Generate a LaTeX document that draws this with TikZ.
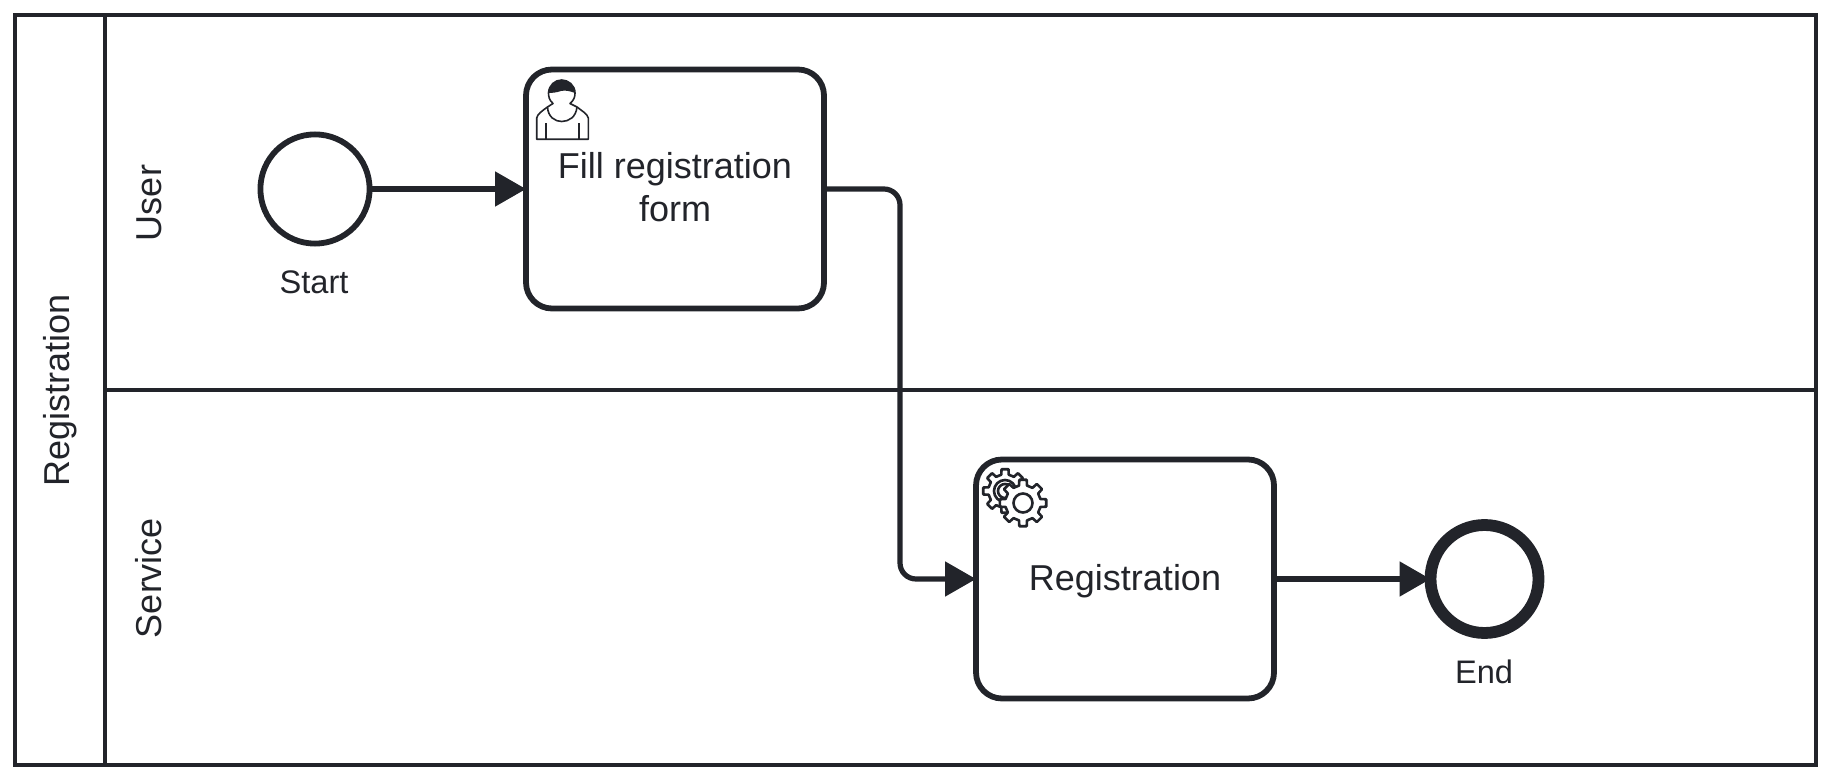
\documentclass[tikz,border=0pt]{standalone}
\usepackage{fontspec}
\setmainfont{Liberation Sans}
\usetikzlibrary{arrows.meta,calc}
\definecolor{inkdark}{HTML}{22242A}
\tikzset{
    lane/.style={line width=2.2pt,draw=inkdark},
    lanelabel/.style={rotate=90,text=inkdark,font=\fontsize{18}{21}\selectfont},
    task/.style={draw=inkdark,line width=2.9pt,rounded corners=13pt,fill=white,minimum width=149pt,minimum height=119.5pt,
        outer sep=0pt,text=inkdark,align=center,font=\fontsize{18}{21}\selectfont},
    startevent/.style={circle,draw=inkdark,line width=2.9pt,minimum size=54.6pt,inner sep=0pt,outer sep=0pt},
    endevent/.style={circle,draw=inkdark,line width=5.9pt,minimum size=54pt,inner sep=0pt,outer sep=0pt},
    eventlabel/.style={text=inkdark,font=\fontsize{16.3}{19}\selectfont},
    flow/.style={draw=inkdark,line width=2.6pt,rounded corners=8pt,-{Triangle[length=15.5pt,width=17pt]}},
    iconline/.style={draw=inkdark,line width=0.8pt,line join=round},
    gearline/.style={draw=inkdark,line width=1.3pt,line join=round,fill=white}
}
\newcommand{\gearshape}[3]{% centre x, centre y, tip radius
    \draw[gearline] ($(#1,#2)+(-13:#3*0.76)$)
    \foreach \a in {0,45,...,315} {
        -- ($(#1,#2)+(\a-13:#3*0.76)$) -- ($(#1,#2)+(\a-9:#3)$) -- ($(#1,#2)+(\a+9:#3)$) -- ($(#1,#2)+(\a+13:#3*0.76)$)
    } -- cycle;
}
\begin{document}
\begin{tikzpicture}[x=0.5pt,y=-0.5pt]
    \useasboundingbox (0,0) rectangle (1830,780);
    % pool and lanes
    \draw[lane] (15,15) rectangle (1816,765);
    \draw[lane] (105,15) -- (105,765);
    \draw[lane] (105,390) -- (1816,390);
    \node[lanelabel] (pool) at (60,390) {Registration};
    \node[lanelabel] (user) at (149,203) {User};
    \node[lanelabel] (service) at (149,578) {Service};
    % events and tasks
    \node[startevent] (start) at (315,189) {};
    \node[eventlabel] (startlabel) at (314,282) {Start};
    \node[task] (fill) at (675,189) {};
    \node[text=inkdark,align=center,font=\fontsize{18}{21.3}\selectfont] (filltext) at (675,187) {Fill registration\\form};
    \node[task,text depth=2pt] (register) at (1125,579) {Registration};
    \node[endevent] (end) at (1484.5,579) {};
    \node[eventlabel] (endlabel) at (1484,672) {End};
    % sequence flows
    \draw[flow] (start) -- (fill);
    \coordinate (bendtop) at (900,189);
    \coordinate (bendbot) at (900,579);
    \draw[flow] (fill.east) -- (bendtop) -- (bendbot) -- (register.west);
    \draw[flow] (register) -- (end);
    % user icon
    \draw[iconline,fill=white] (536.7,139.3) -- (536.7,118) .. controls (537.5,114) and (542,111) .. (547.5,107) -- (553,103.5)
        .. controls (549,100) and (548.5,96) .. (548.5,93) .. controls (549,85) and (555,80) .. (561.7,80)
        .. controls (568,80) and (575,85) .. (575,93) .. controls (575,97) and (574,100) .. (570,103.5)
        -- (577,107) .. controls (582,111) and (587.5,114) .. (588.3,118) -- (588.3,139.3) -- cycle;
    \fill[inkdark] (548.5,93) .. controls (549,85) and (555,80) .. (561.7,80) .. controls (568,80) and (575,85) .. (575,93)
        .. controls (570,91) and (565,90) .. (561,91) .. controls (557,92.5) and (552,93) .. (548.5,93) -- cycle;
    \draw[iconline] (547.5,107) .. controls (548,117) and (555,121.5) .. (561.7,121.5) .. controls (569,121.5) and (576,117) .. (577,107);
    \draw[iconline] (545.7,123.5) -- (545.7,139.3);
    \draw[iconline] (579,123.5) -- (579,139.3);
    % gear icon
    \gearshape{1005}{491}{22}
    \draw[gearline] (1005,491) circle (11);
    \draw[gearline] (1005,491) circle (7);
    \gearshape{1023}{503}{23.5}
    \draw[gearline] (1023,503) circle (9.5);
\end{tikzpicture}
\end{document}
